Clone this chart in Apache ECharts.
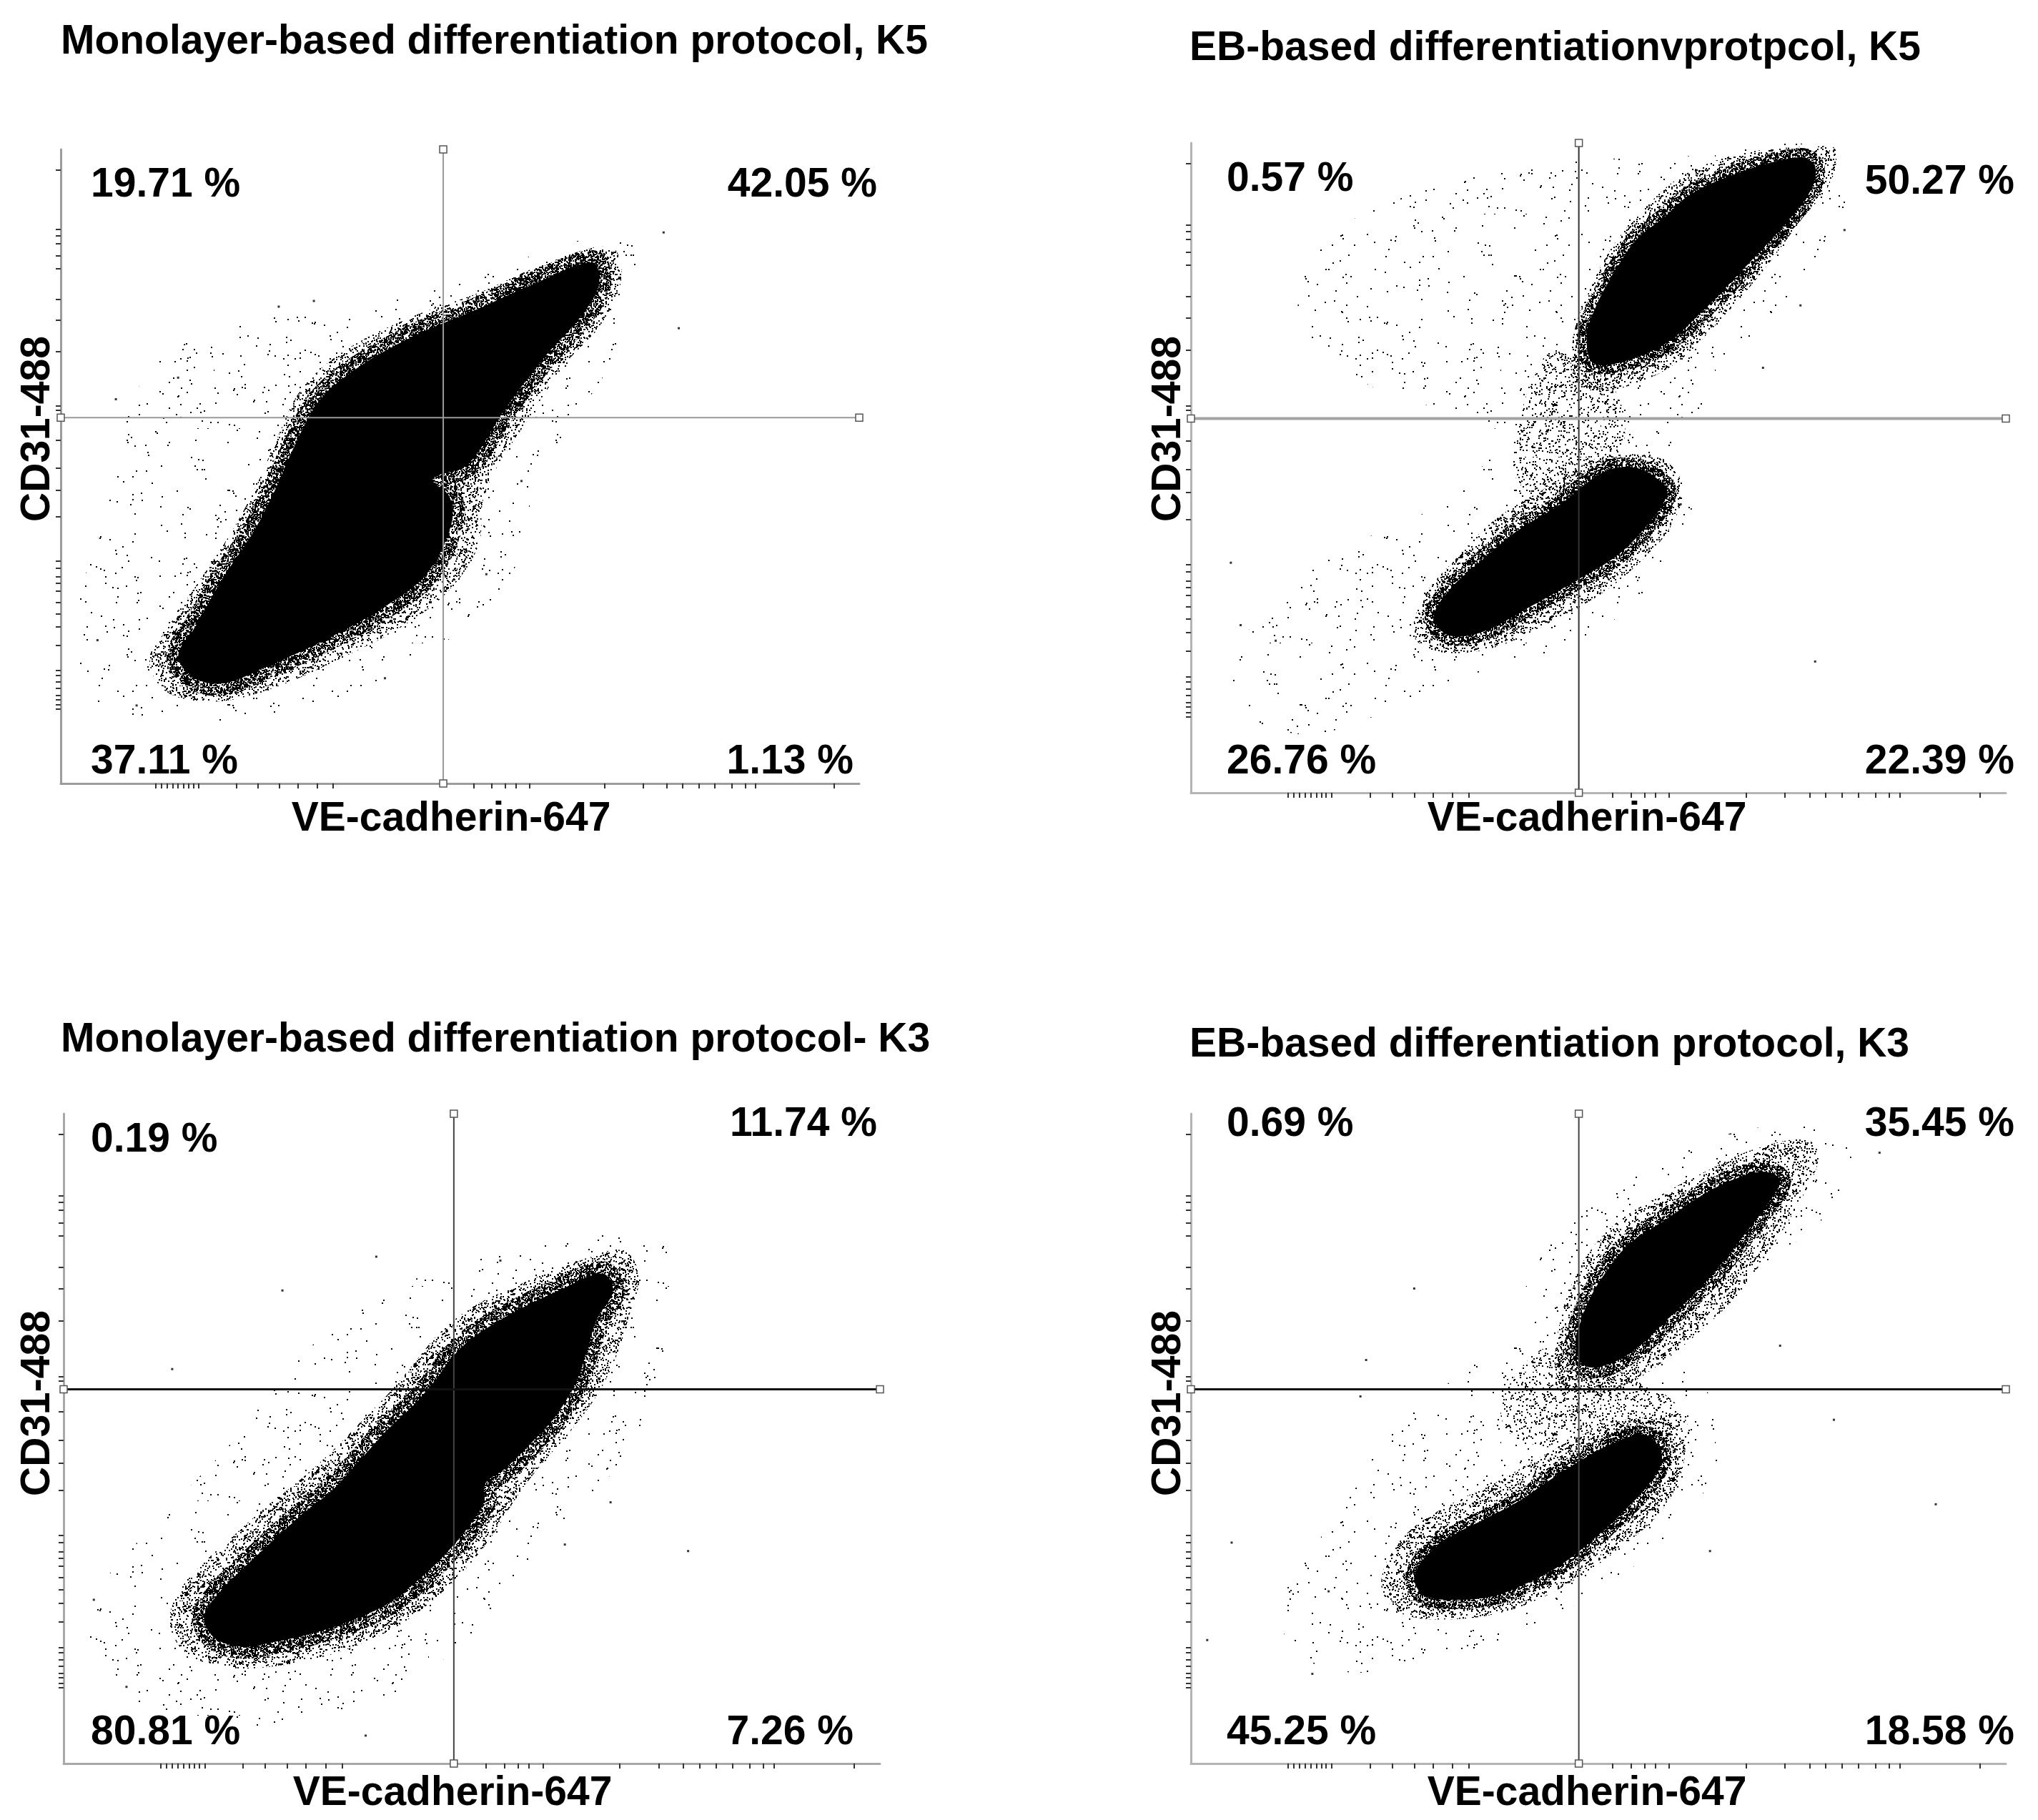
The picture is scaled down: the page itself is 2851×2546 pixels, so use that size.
<!DOCTYPE html>
<html>
<head>
<meta charset="utf-8">
<title>CD31 / VE-cadherin flow cytometry</title>
<script src="https://cdn.jsdelivr.net/npm/echarts/dist/echarts.min.js"></script>
<style>
  html, body { margin: 0; padding: 0; background: #fff; }
  #chart { width: 2851px; height: 2546px; }
</style>
</head>
<body>
<div id="chart"></div>
<script>
// ---- panel texts ----
const panelTitles = [
  'Monolayer-based differentiation protocol, K5',
  'EB-based differentiationvprotpcol, K5',
  'Monolayer-based differentiation protocol- K3',
  'EB-based differentiation protocol, K3'
];
// quadrant percentages: upper-left, upper-right, lower-left, lower-right
const tlPct = [19.71, 42.05, 37.11, 1.13];
const trPct = [0.57, 50.27, 26.76, 22.39];
const blPct = [0.19, 11.74, 80.81, 7.26];
const brPct = [0.69, 35.45, 45.25, 18.58];

// ---- axes (display units 0..1000 on both channels) ----
const xTicks = [119, 126, 133, 140, 147, 154, 160, 166, 173, 220, 247, 274, 297, 321, 341,
  517, 540, 557, 570, 587, 681, 729, 759, 779, 799, 819, 840, 857, 870, 968];
const yTicks = [117, 124, 132, 139, 150, 160, 171, 178, 218, 247, 268, 286, 304, 316, 326, 340, 351,
  421, 462, 498, 541, 589, 595, 681, 731, 764, 812, 832, 852, 864, 874, 968];

// quadrant gate positions per panel
const gateX = [479, 476, 478, 476];
const gateY = [577, 576, 576, 576];

// ---- event clouds, outlines ----
// Monolayer K5
const tlSparse = [[713,867],[624,846],[461,775],[331,744],[217,723],[119,662],[78,559],[54,416],[24,293],[21,170],[62,119],[168,98],[298,113],[412,170],[510,252],[575,355],[591,457],[624,539],[689,662],[730,785]];
const tlHalo = [[689,846],[607,820],[526,775],[436,734],[355,682],[301,621],[269,539],[244,467],[213,395],[176,324],[132,242],[111,195],[132,145],[192,129],[265,150],[347,195],[428,248],[485,303],[523,375],[529,447],[546,498],[583,570],[632,662],[676,723],[702,795]];
const tlCore = [[666,822],[591,787],[518,746],[443,706],[372,656],[324,604],[293,533],[268,462],[240,394],[203,324],[168,246],[147,201],[168,166],[205,158],[257,184],[332,227],[406,279],[458,330],[489,408],[487,452],[466,480],[510,504],[555,588],[607,674],[651,736],[674,787]];
const tlDots = [[755,869],[774,718],[533,330],[406,166],[69,606],[95,123],[147,640],[317,761],[273,752],[46,226],[577,477]];

// EB K5
const trSparse = [[772,995],[612,980],[453,970],[293,930],[166,850],[134,720],[230,620],[373,560],[325,460],[198,380],[86,280],[54,140],[134,90],[230,120],[341,180],[453,224],[549,296],[612,420],[612,540],[660,660],[756,800],[804,920]];
const trBridge = [[445,680],[509,640],[533,560],[509,490],[437,450],[397,490],[405,580],[421,640]];
const trHaloA = [[772,995],[676,984],[604,950],[557,900],[517,840],[488,770],[469,700],[472,630],[517,620],[589,656],[644,720],[700,800],[748,880],[785,940],[791,990]];
const trHaloB = [[557,520],[501,516],[437,470],[373,420],[325,360],[285,300],[274,240],[309,216],[373,224],[437,260],[501,304],[552,356],[589,410],[604,470],[584,510]];
const trCoreA = [[748,978],[681,958],[614,922],[581,886],[547,852],[520,802],[499,754],[486,704],[493,662],[526,662],[581,690],[627,740],[681,810],[727,872],[761,928],[766,964]];
const trCoreB = [[547,500],[507,494],[453,444],[399,402],[359,360],[317,312],[298,270],[317,242],[359,248],[413,284],[472,326],[526,368],[568,424],[584,458],[581,474]];
const trDots = [[802,866],[748,750],[766,202],[49,354],[61,258],[104,234],[702,654],[601,444]];

// Monolayer K3
const blSparse = [[720,820],[640,810],[520,780],[420,740],[340,680],[270,600],[210,500],[150,420],[90,340],[40,260],[30,180],[70,110],[150,70],[250,50],[330,70],[420,120],[500,200],[560,300],[620,380],[680,460],[720,560],[740,660],[750,760]];
const blHalo = [[685,790],[620,768],[560,738],[500,702],[460,662],[430,617],[400,572],[365,527],[330,482],[290,437],[245,392],[205,347],[170,307],[140,262],[130,215],[150,170],[200,148],[260,150],[320,165],[375,190],[420,220],[465,265],[500,310],[530,360],[555,410],[585,460],[620,510],[655,570],[678,630],[693,690],[705,750]];
const blCore = [[660,754],[607,728],[554,696],[502,656],[475,624],[456,591],[429,552],[396,513],[363,467],[330,422],[291,382],[251,337],[218,298],[192,265],[172,226],[185,193],[218,180],[258,187],[304,200],[350,219],[396,245],[436,284],[469,324],[495,363],[515,402],[516,430],[541,454],[568,487],[601,532],[627,585],[640,630],[653,683],[673,728]];
const blDots = [[614,337],[670,402],[765,327],[535,774],[268,728],[133,607],[37,252],[77,118],[370,43],[383,780]];

// EB K3
const brSparse = [[780,980],[680,975],[580,930],[500,870],[430,780],[390,680],[330,600],[250,520],[200,420],[150,330],[110,240],[130,170],[200,140],[300,160],[400,200],[480,250],[560,320],[620,400],[650,480],[640,560],[600,620],[640,700],[720,780],[790,860],[810,940]];
const brBridge = [[440,640],[520,600],[590,560],[610,500],[560,470],[480,480],[400,500],[380,540],[400,600]];
const brHaloA = [[756,960],[690,945],[630,910],[570,870],[520,830],[485,780],[462,720],[450,660],[448,600],[470,570],[520,575],[570,610],[620,660],[670,720],[710,790],[745,860],[770,930]];
const brHaloB = [[580,530],[520,525],[470,500],[420,465],[370,430],[320,400],[270,360],[240,310],[235,265],[260,230],[320,222],[380,232],[430,255],[480,290],[530,335],[575,385],[600,440],[605,500]];
const brCoreA = [[703,911],[664,898],[624,872],[578,833],[538,800],[512,761],[492,722],[479,683],[472,643],[485,611],[518,617],[551,643],[584,683],[617,722],[650,767],[683,820],[710,865],[723,898]];
const brCoreB = [[558,506],[518,493],[479,467],[439,435],[400,402],[360,376],[320,350],[287,317],[274,284],[287,258],[327,252],[373,258],[413,278],[452,304],[492,343],[532,389],[565,435],[578,474]];
const brDots = [[914,399],[789,529],[637,327],[845,940],[274,731],[215,621],[50,340],[20,190],[149,138],[723,643],[208,565],[169,265]];

// ---- layout (pixels) ----
const grids = [
  { left: 85, top: 209, width: 1117, height: 887 },
  { left: 1666, top: 200, width: 1140, height: 909 },
  { left: 89, top: 1558, width: 1142, height: 909 },
  { left: 1666, top: 1558, width: 1140, height: 909 }
];
const titlePos = [[85, 55], [1664, 64], [85, 1451], [1664, 1458]];
const xNamePos = [[631, 1142], [2220, 1142], [633, 2505], [2220, 2505]];
const yNamePos = [[49, 600], [1631, 600], [49, 1963], [1631, 1963]];
// ul, ur (right aligned), ll, lr (right aligned)
const pctPos = [
  [[127, 255], [1227, 255], [127, 1062], [1194, 1062]],
  [[1716, 247], [2818, 251], [1716, 1062], [2818, 1062]],
  [[127, 1591], [1227, 1569], [127, 2420], [1194, 2420]],
  [[1716, 1569], [2818, 1569], [1716, 2420], [2818, 2420]]
];
const gateStyle = [
  { v: '#9a9a9a', vw: 2, h: '#9a9a9a', hw: 2 },
  { v: '#333', vw: 2, h: '#a3a3a3', hw: 4 },
  { v: '#444', vw: 2, h: '#111', hw: 3 },
  { v: '#444', vw: 2, h: '#111', hw: 3 }
];
const axisColor = ['#9c9c9c', '#b4b4b4', '#a8a8a8', '#b4b4b4'];

const FONT = 'bold 57px "Liberation Sans", Arial, sans-serif';

// speckle tile used to shade the lower-density parts of each cloud
function speckle(size, count, seed) {
  const c = document.createElement('canvas');
  c.width = size; c.height = size;
  const g = c.getContext('2d');
  g.fillStyle = '#000';
  let h = seed;
  for (let k = 0; k < count; k++) {
    h = (Math.imul(h, 1103515245) + 12345) & 0x7fffffff;
    const x = (h >>> 10) % size;
    h = (Math.imul(h, 1103515245) + 12345) & 0x7fffffff;
    const y = (h >>> 10) % size;
    g.fillRect(x, y, 2, 2);
  }
  return { image: c, repeat: 'repeat', imageWidth: size, imageHeight: size };
}
const light = speckle(300, 260, 7);
const bridge = speckle(160, 940, 5);
const medium = speckle(160, 1700, 11);
const dense = speckle(160, 5300, 23);

function cloud(gi, pts, fill, stroke, lw) {
  return {
    type: 'custom',
    xAxisIndex: gi,
    yAxisIndex: gi,
    silent: true,
    clip: true,
    data: pts,
    renderItem: function (params, api) {
      if (params.dataIndex !== 0) return null;
      return {
        type: 'polygon',
        shape: { points: pts.map(p => api.coord(p)), smooth: 0.35 },
        style: { fill: fill || 'none', stroke: stroke || 'none', lineWidth: lw || 0 }
      };
    }
  };
}

function gate(gi) {
  const st = gateStyle[gi];
  const mark = { color: '#fff', borderColor: '#555', borderWidth: 1.5 };
  return [
    {
      type: 'line', xAxisIndex: gi, yAxisIndex: gi, silent: true, clip: false,
      data: [[gateX[gi], 0], [gateX[gi], 1000]],
      symbol: 'rect', symbolSize: 10, itemStyle: mark,
      lineStyle: { color: st.v, width: st.vw }
    },
    {
      type: 'line', xAxisIndex: gi, yAxisIndex: gi, silent: true, clip: false,
      data: [[0, gateY[gi]], [1000, gateY[gi]]],
      symbol: 'rect', symbolSize: 10, itemStyle: mark,
      lineStyle: { color: st.h, width: st.hw }
    }
  ];
}

function dots(gi, pts) {
  return {
    type: 'scatter', xAxisIndex: gi, yAxisIndex: gi, silent: true,
    data: pts, symbol: 'rect', symbolSize: 3, itemStyle: { color: '#000' }
  };
}

const series = [].concat(
  gate(0),
  cloud(0, tlSparse, light), cloud(0, tlHalo, medium),
  cloud(0, tlCore, null, dense, 34), cloud(0, tlCore, '#000'),
  dots(0, tlDots),

  gate(1),
  cloud(1, trSparse, light), cloud(1, trBridge, bridge),
  cloud(1, trHaloA, medium), cloud(1, trHaloB, medium),
  cloud(1, trCoreA, null, dense, 26), cloud(1, trCoreB, null, dense, 26),
  cloud(1, trCoreA, '#000'), cloud(1, trCoreB, '#000'),
  dots(1, trDots),

  gate(2),
  cloud(2, blSparse, light), cloud(2, blHalo, medium),
  cloud(2, blCore, null, dense, 34), cloud(2, blCore, '#000'),
  dots(2, blDots),

  gate(3),
  cloud(3, brSparse, light), cloud(3, brBridge, bridge),
  cloud(3, brHaloA, medium), cloud(3, brHaloB, medium),
  cloud(3, brCoreA, null, dense, 30), cloud(3, brCoreB, null, dense, 26),
  cloud(3, brCoreA, '#000'), cloud(3, brCoreB, '#000'),
  dots(3, brDots)
);

const xAxes = grids.map((g, i) => ({
  gridIndex: i, type: 'value', min: 0, max: 1000,
  axisLine: { lineStyle: { color: axisColor[i], width: 3 } },
  axisTick: { show: true, customValues: xTicks, length: 7, lineStyle: { color: '#333', width: 2 } },
  axisLabel: { show: false },
  splitLine: { show: false }
}));
const yAxes = grids.map((g, i) => ({
  gridIndex: i, type: 'value', min: 0, max: 1000,
  axisLine: { lineStyle: { color: axisColor[i], width: 3 } },
  axisTick: { show: true, customValues: yTicks, length: 7, lineStyle: { color: '#333', width: 2 } },
  axisLabel: { show: false },
  splitLine: { show: false }
}));

const pctSets = [tlPct, trPct, blPct, brPct];
const graphic = [];
function txt(text, x, y, align, rot) {
  graphic.push({
    type: 'text', x: x, y: y, rotation: rot || 0, silent: true,
    style: { text: text, font: FONT, fill: '#000', textAlign: align, textVerticalAlign: 'middle' }
  });
}
for (let i = 0; i < 4; i++) {
  txt(panelTitles[i], titlePos[i][0], titlePos[i][1], 'left');
  txt('VE-cadherin-647', xNamePos[i][0], xNamePos[i][1], 'center');
  txt('CD31-488', yNamePos[i][0], yNamePos[i][1], 'center', Math.PI / 2);
  const pos = pctPos[i];
  pctSets[i].forEach((v, q) => {
    txt(v.toFixed(2) + ' %', pos[q][0], pos[q][1], (q % 2 === 1) ? 'right' : 'left');
  });
}

const chart = echarts.init(document.getElementById('chart'), null, { renderer: 'svg' });
chart.setOption({
  animation: false,
  backgroundColor: '#fff',
  grid: grids,
  xAxis: xAxes,
  yAxis: yAxes,
  series: series,
  graphic: graphic
});
</script>
</body>
</html>
